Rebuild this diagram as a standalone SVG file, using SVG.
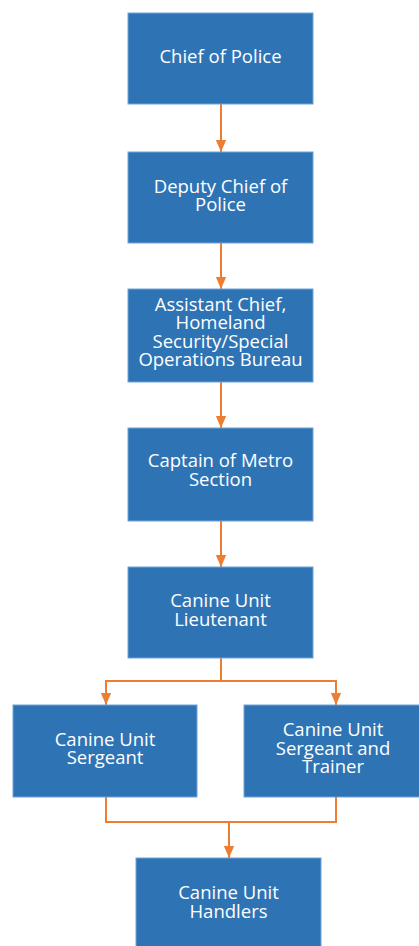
<svg xmlns="http://www.w3.org/2000/svg" width="419" height="946" viewBox="0 0 419 946">
<defs>
<style>
.box{fill:#2e74b5;stroke:#6fa3d8;stroke-width:1}
.t{font-family:"Open Sans","Noto Sans","Liberation Sans",sans-serif;font-size:18.5px;fill:#ffffff;text-anchor:middle}
.c{fill:none;stroke:#ed7d31;stroke-width:2}
</style>
<marker id="ahd" markerWidth="12" markerHeight="14" refX="14" refY="6" orient="auto" markerUnits="userSpaceOnUse" viewBox="0 0 14 12">
<path d="M0,0 L14,6 L0,12 Z" fill="#ed7d31"/>
</marker>
</defs>
<rect width="419" height="946" fill="#ffffff"/>
<g id="connectors">
<path class="c" d="M221,104 V152" marker-end="url(#ahd)"/>
<path class="c" d="M221,243 V289" marker-end="url(#ahd)"/>
<path class="c" d="M221,382 V428" marker-end="url(#ahd)"/>
<path class="c" d="M221,521 V567" marker-end="url(#ahd)"/>
<path class="c" d="M221,658 V681 H106 V705" marker-end="url(#ahd)"/>
<path class="c" d="M221,681 H336 V705" marker-end="url(#ahd)"/>
<path class="c" d="M106,797 V822 H336 V797"/>
<path class="c" d="M229,822 V858" marker-end="url(#ahd)"/>
</g>
<g id="chief">
<rect class="box" x="128" y="13" width="185" height="91"/>
<text class="t" x="220.5" y="63">Chief of Police</text>
</g>
<g id="deputy">
<rect class="box" x="128" y="152" width="185" height="91"/>
<text class="t" x="220.5" y="193">Deputy Chief of<tspan x="220.5" dy="18">Police</tspan></text>
</g>
<g id="assistant">
<rect class="box" x="128" y="289" width="185" height="93"/>
<text class="t" x="220.5" y="311">Assistant Chief,<tspan x="220.5" dy="18.3">Homeland</tspan><tspan x="220.5" dy="18.3">Security/Special</tspan><tspan x="220.5" dy="18.3">Operations Bureau</tspan></text>
</g>
<g id="captain">
<rect class="box" x="128" y="428" width="185" height="93"/>
<text class="t" x="220.5" y="467">Captain of Metro<tspan x="220.5" dy="19">Section</tspan></text>
</g>
<g id="lieutenant">
<rect class="box" x="128" y="567" width="185" height="91"/>
<text class="t" x="220.5" y="607">Canine Unit<tspan x="220.5" dy="19">Lieutenant</tspan></text>
</g>
<g id="sergeant">
<rect class="box" x="13" y="705" width="184" height="92"/>
<text class="t" x="105" y="746">Canine Unit<tspan x="105" dy="18">Sergeant</tspan></text>
</g>
<g id="sergeant-trainer">
<rect class="box" x="244" y="705" width="185" height="92"/>
<text class="t" x="333" y="736">Canine Unit<tspan x="333" dy="18.5">Sergeant and</tspan><tspan x="333" dy="18.5">Trainer</tspan></text>
</g>
<g id="handlers">
<rect class="box" x="136" y="858" width="185" height="95"/>
<text class="t" x="228.5" y="899">Canine Unit<tspan x="228.5" dy="19">Handlers</tspan></text>
</g>
</svg>
